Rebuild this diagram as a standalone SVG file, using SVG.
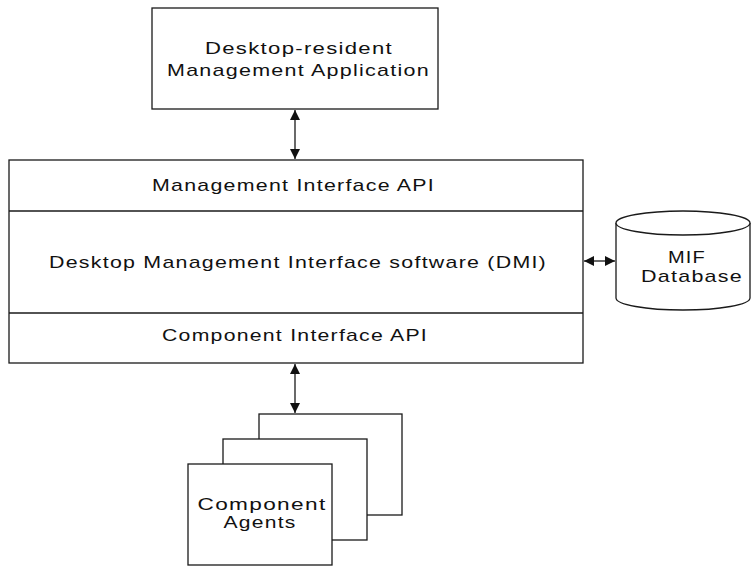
<svg xmlns="http://www.w3.org/2000/svg" width="752" height="566" viewBox="0 0 752 566">
  <style>
    .box { fill: #fff; stroke: #1a1a1a; stroke-width: 1.3; }
    .line { fill: none; stroke: #1a1a1a; stroke-width: 1.3; }
    .lbl { font-family: "Liberation Sans", Arial, sans-serif; font-size: 17px; letter-spacing: 1px; fill: #111; }
  </style>
  <defs>
    <marker id="arrow" viewBox="0 0 10 10" refX="10" refY="5" markerWidth="10" markerHeight="10" markerUnits="userSpaceOnUse" orient="auto-start-reverse">
      <path d="M0,0 L10,5 L0,10 Z" fill="#111"/>
    </marker>
  </defs>
  <rect width="752" height="566" fill="#fff"/>

  <!-- management application on top -->
  <g id="app">
    <rect class="box" x="152" y="8" width="286" height="101"/>
    <text class="lbl" x="205" y="54" textLength="188" lengthAdjust="spacingAndGlyphs">Desktop-resident</text>
    <text class="lbl" x="167" y="76" textLength="263" lengthAdjust="spacingAndGlyphs">Management Application</text>
  </g>

  <!-- DMI service layer with its two APIs -->
  <g id="dmi">
    <rect class="box" x="9" y="160" width="574" height="203"/>
    <line class="line" x1="9" y1="211" x2="583" y2="211"/>
    <line class="line" x1="9" y1="313" x2="583" y2="313"/>
    <text class="lbl" x="152" y="191" textLength="283" lengthAdjust="spacingAndGlyphs">Management Interface API</text>
    <text class="lbl" x="49" y="268" textLength="498" lengthAdjust="spacingAndGlyphs">Desktop Management Interface software (DMI)</text>
    <text class="lbl" x="162" y="341" textLength="266" lengthAdjust="spacingAndGlyphs">Component Interface API</text>
  </g>

  <!-- MIF database cylinder -->
  <g id="mif">
    <path class="box" d="M616,223 L616,298 A67,12 0 0 0 750,298 L750,223"/>
    <ellipse class="box" cx="683" cy="223" rx="67" ry="12"/>
    <text class="lbl" x="668" y="263" textLength="38" lengthAdjust="spacingAndGlyphs">MIF</text>
    <text class="lbl" x="641" y="282" textLength="102" lengthAdjust="spacingAndGlyphs">Database</text>
  </g>

  <!-- stacked component agents -->
  <g id="agents">
    <rect class="box" x="259" y="414" width="143" height="101"/>
    <rect class="box" x="223" y="439" width="144" height="101"/>
    <rect class="box" x="188" y="464" width="144" height="101"/>
    <text class="lbl" x="197.5" y="510" textLength="129" lengthAdjust="spacingAndGlyphs">Component</text>
    <text class="lbl" x="223.5" y="528" textLength="73" lengthAdjust="spacingAndGlyphs">Agents</text>
  </g>

  <!-- two-way connectors -->
  <g id="connectors">
    <line class="line" x1="295" y1="110" x2="295" y2="159" marker-start="url(#arrow)" marker-end="url(#arrow)"/>
    <line class="line" x1="584" y1="261" x2="615" y2="261" marker-start="url(#arrow)" marker-end="url(#arrow)"/>
    <line class="line" x1="295" y1="364" x2="295" y2="413" marker-start="url(#arrow)" marker-end="url(#arrow)"/>
  </g>
</svg>
